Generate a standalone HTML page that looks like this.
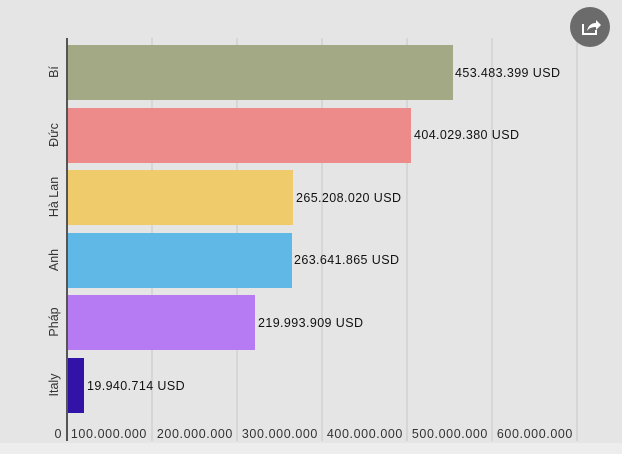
<!DOCTYPE html><html><head><style>body{margin:0;background:#e5e5e5}svg{display:block}</style></head><body>
<svg width="622" height="454" xmlns="http://www.w3.org/2000/svg" font-family="Liberation Sans, sans-serif">
<rect width="622" height="454" fill="#e5e5e5"/>
<rect y="443" width="622" height="11" fill="#ededed"/>
<g stroke="#d2d2d2" stroke-width="1.5">
<line x1="152" y1="38" x2="152" y2="441"/><line x1="237" y1="38" x2="237" y2="441"/><line x1="322" y1="38" x2="322" y2="441"/><line x1="407" y1="38" x2="407" y2="441"/><line x1="492" y1="38" x2="492" y2="441"/><line x1="577" y1="38" x2="577" y2="441"/></g>
<rect x="67" y="45" width="386" height="55" fill="#a3a985"/>
<rect x="67" y="108" width="344" height="55" fill="#ec8b89"/>
<rect x="67" y="170" width="226" height="55" fill="#efcb6c"/>
<rect x="67" y="233" width="225" height="55" fill="#5fb8e6"/>
<rect x="67" y="295" width="188" height="55" fill="#b67bf2"/>
<rect x="67" y="358" width="17" height="55" fill="#3213a8"/>
<line x1="67" y1="38" x2="67" y2="441" stroke="#555" stroke-width="2"/>
<g font-size="12.5" fill="#111" letter-spacing="0.4">
<text x="455" y="77">453.483.399 USD</text>
<text x="414" y="139">404.029.380 USD</text>
<text x="296" y="202">265.208.020 USD</text>
<text x="294" y="264">263.641.865 USD</text>
<text x="258" y="327">219.993.909 USD</text>
<text x="87" y="390">19.940.714 USD</text></g>
<g font-size="12.5" fill="#333" text-anchor="middle">
<text transform="translate(58,72) rotate(-90)">Bí</text>
<text transform="translate(58,135) rotate(-90)">Đức</text>
<text transform="translate(58,197) rotate(-90)">Hà Lan</text>
<text transform="translate(58,260) rotate(-90)">Anh</text>
<text transform="translate(58,322) rotate(-90)">Pháp</text>
<text transform="translate(58,385) rotate(-90)">Italy</text></g>
<g font-size="12.5" fill="#333" text-anchor="end" letter-spacing="0.6">
<text x="62" y="438">0</text><text x="147" y="438">100.000.000</text><text x="233" y="438">200.000.000</text><text x="318" y="438">300.000.000</text><text x="403" y="438">400.000.000</text><text x="488" y="438">500.000.000</text><text x="573" y="438">600.000.000</text></g>
<circle cx="590" cy="27" r="20" fill="#6b6b6b"/>
<path d="M583 24v10h13v-4" fill="none" stroke="#fff" stroke-width="2"/>
<path d="M587 31c1-5 4-8 9-8v-3l5 5-5 5v-3c-4 0-7 1-9 4z" fill="#fff"/>
</svg></body></html>
